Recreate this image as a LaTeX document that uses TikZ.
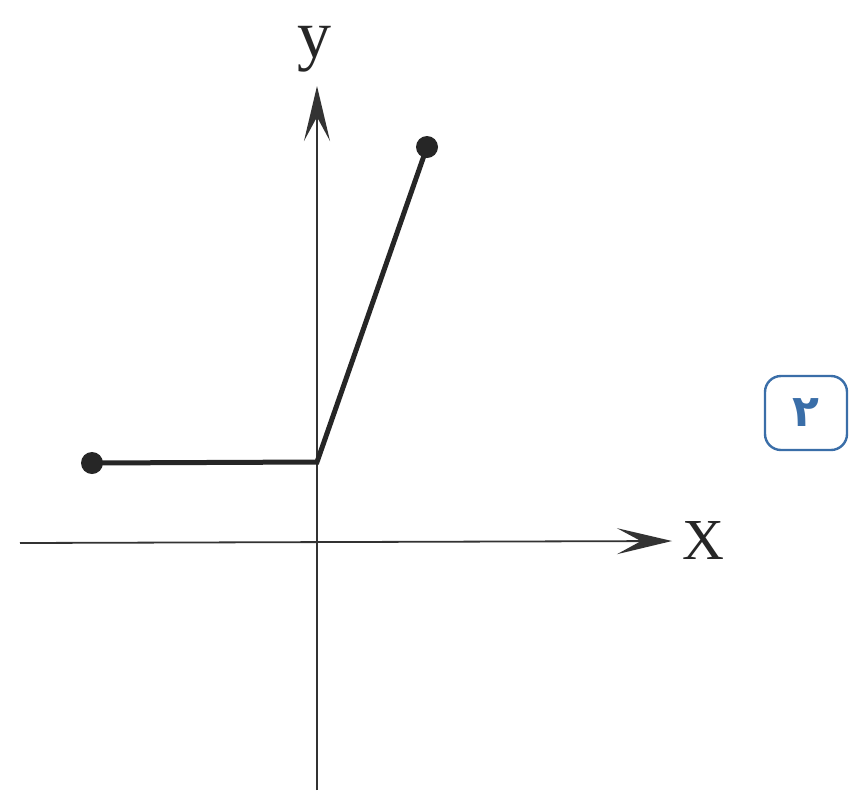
\documentclass[tikz,border=0pt]{standalone}
\usepackage{fontspec}
\setmainfont{Liberation Serif}
\newfontfamily\arabicfont[Script=Arabic]{DejaVu Sans}
\TeXXeTstate=1
\usetikzlibrary{arrows.meta}
\definecolor{boxblue}{HTML}{3A6EA8}
\begin{document}
\begin{tikzpicture}[x=1pt,y=-1pt,
  axis/.style={line width=1.8pt,-{Stealth[length=55pt,width=26pt,inset=24pt]}},
  graphline/.style={line width=5pt,line cap=round},
  dotnode/.style={circle,fill=black!85,inner sep=0pt,minimum size=22pt},
  tagbox/.style={draw=boxblue,line width=2.4pt,rounded corners=16pt,minimum width=82pt,minimum height=74pt,text=boxblue,font=\arabicfont\bfseries\fontsize{44}{46}\selectfont}
]
\useasboundingbox (0,0) rectangle (854,796);
\fill[white] (0,0) rectangle (854,796);
% axes
\coordinate (xs) at (20,543);
\coordinate (xe) at (672,541);
\coordinate (ys) at (317,790);
\coordinate (ye) at (317,86);
\draw[axis,black!80] (xs) -- (xe);
\draw[axis,black!80] (ys) -- (ye);
\node[font=\fontsize{58}{60}\selectfont,text=black!85,inner sep=0pt] (xl) at (703,541) {X};
\node[font=\fontsize{68}{70}\selectfont,text=black!85,inner sep=0pt,anchor=north] (yl) at (314,26) {y};
% graph
\node[dotnode] (p1) at (92,463) {};
\coordinate (p2) at (317,462);
\node[dotnode] (p3) at (427,147) {};
\draw[graphline,black!85] (p1.center) -- (p2) -- (p3.center);
% tag
\node[tagbox] (tag) at (806,413) {\beginR ۲\endR};
\end{tikzpicture}
\end{document}
